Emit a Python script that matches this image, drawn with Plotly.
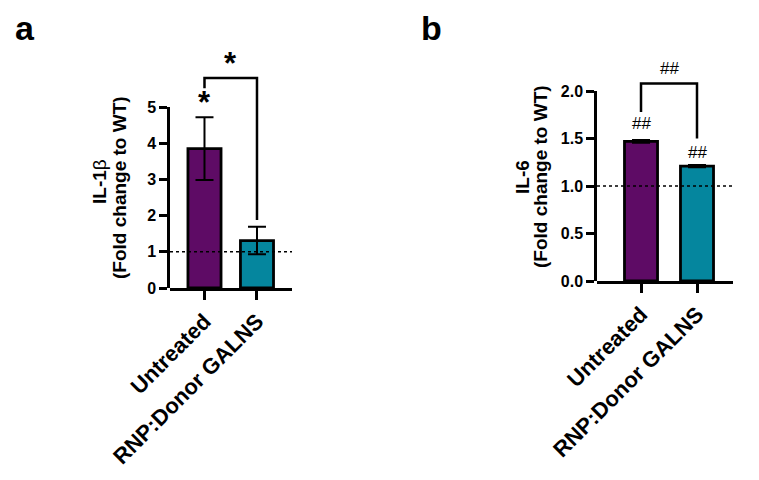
import plotly.graph_objects as go

# data
groups = ["Untreated", "RNP:Donor GALNS"]
il1b_mean = [3.85, 1.31]
il1b_err = [0.87, 0.38]
il6_mean = [1.47, 1.21]
il6_err = [0.015, 0.012]
bar_colors = ["#5E0B65", "#05869E"]

il1b_ticks = [0, 1, 2, 3, 4, 5]
il6_ticks = [0.0, 0.5, 1.0, 1.5, 2.0]

# significance brackets: left leg end, top, right leg end
il1b_bracket = [5.52, 5.8, 1.88]
il6_bracket = [1.78, 2.08, 1.50]
# significance labels: (x index, y, text)
il1b_sig = [(0.5, 6.2, "*"), (0, 5.12, "*")]
il6_sig = [(0.5, 2.24, "##"), (0, 1.66, "##"), (1, 1.355, "##")]

# the page body has an 8px margin, so the figure is drawn 8px in
OFF = 8
W, H = 759 - OFF, 480 - OFF
FONT = "Liberation Sans, Arial, sans-serif"


def fx(p):
    return (p - OFF) / W


def fy(p):
    return 1 - (p - OFF) / H


x_pos = list(range(len(groups)))

fig = go.Figure()


def panel(xa, ya_data, ya_tick, means, errs, bracket, sig, sig_size, sig_bold,
          xr, bar_w):
    xref = "x" if xa == 1 else "x%d" % xa
    yref = "y" if ya_data == 1 else "y%d" % ya_data
    fig.add_trace(go.Bar(
        x=x_pos, y=means, width=bar_w,
        marker=dict(color=bar_colors, line=dict(color="black", width=2.8)),
        error_y=dict(type="data", array=errs, color="black", thickness=2, width=9),
        xaxis=xref, yaxis=yref, showlegend=False))
    # dotted reference line at 1
    fig.add_trace(go.Scatter(
        x=[xr[0], xr[1]], y=[1, 1], mode="lines",
        line=dict(color="black", width=1.5, dash="dot"),
        xaxis=xref, yaxis=yref, showlegend=False))
    # bracket
    fig.add_trace(go.Scatter(
        x=[x_pos[0], x_pos[0], x_pos[1], x_pos[1]],
        y=[bracket[0], bracket[1], bracket[1], bracket[2]],
        mode="lines", line=dict(color="black", width=2.5),
        xaxis=xref, yaxis=yref, showlegend=False))
    # dummy trace on the tick axis so it is drawn
    fig.add_trace(go.Scatter(x=[], y=[], xaxis=xref,
                             yaxis="y%d" % ya_tick, showlegend=False))
    for sx, sy, st in sig:
        fig.add_annotation(x=sx, y=sy, xref=xref, yref=yref, text=st,
                           showarrow=False, xanchor="center", yanchor="middle",
                           font=dict(family=FONT, size=sig_size, color="black",
                                     weight="bold" if sig_bold else "normal"))


xr_a = [-0.657, 1.667]
xr_b = [-0.786, 1.643]

panel(1, 1, 3, il1b_mean, il1b_err, il1b_bracket, il1b_sig, 31, True, xr_a, 0.63)
panel(2, 2, 4, il6_mean, il6_err, il6_bracket, il6_sig, 17, False, xr_b, 0.59)

# axis geometry (pixels)
a_top, a_bot, b_top, b_bot, data_top = 107, 288, 91, 281, 20
a_max = il1b_ticks[-1] * (a_bot - data_top) / (a_bot - a_top)
b_max = il6_ticks[-1] * (b_bot - data_top) / (b_bot - b_top)

xax = dict(showline=True, linewidth=2.5, linecolor="black", ticks="outside",
           ticklen=9, tickwidth=2.5, tickcolor="black", showgrid=False,
           zeroline=False, tickangle=-45, tickvals=x_pos, ticktext=groups,
           automargin=False,
           tickfont=dict(family=FONT, size=22, color="black", weight="bold"))
ytick = dict(showline=True, linewidth=2.5, linecolor="black", ticks="outside",
             ticklen=8, tickwidth=2.5, tickcolor="black", showgrid=False,
             zeroline=False, automargin=False,
             tickfont=dict(family=FONT, size=16, color="black", weight="bold"))

fig.update_layout(
    width=W, height=H, margin=dict(l=0, r=0, t=0, b=0),
    paper_bgcolor="white", plot_bgcolor="rgba(0,0,0,0)",
    xaxis=dict(xax, domain=[fx(170), fx(292)], range=xr_a, anchor="y"),
    xaxis2=dict(xax, domain=[fx(597), fx(733)], range=xr_b, anchor="y2"),
    yaxis=dict(domain=[fy(a_bot), fy(data_top)], range=[0, a_max],
               visible=False, anchor="x", automargin=False),
    yaxis2=dict(domain=[fy(b_bot), fy(data_top)], range=[0, b_max],
                visible=False, anchor="x2", automargin=False),
    yaxis3=dict(ytick, domain=[fy(a_bot), fy(a_top)],
                range=[0, il1b_ticks[-1]], tickvals=il1b_ticks, anchor="x"),
    yaxis4=dict(ytick, domain=[fy(b_bot), fy(b_top)],
                range=[0, il6_ticks[-1]], tickvals=il6_ticks,
                tickformat=".1f", anchor="x2"),
)

# axis titles and panel letters
titles = [
    ("<b>IL-1</b>β", 99, 182),
    ("<b>(Fold change to WT)</b>", 119, 188),
    ("<b>IL-6</b>", 522, 177),
    ("<b>(Fold change to WT)</b>", 540, 177),
]
for txt, px, py in titles:
    fig.add_annotation(x=fx(px), y=fy(py), xref="paper", yref="paper",
                       text=txt, textangle=-90, showarrow=False,
                       xanchor="center", yanchor="middle",
                       font=dict(family=FONT, size=19, color="black"))

for txt, px, py in [("a", 14, 8), ("b", 420, 8)]:
    fig.add_annotation(x=fx(px), y=fy(py), xref="paper", yref="paper",
                       text="<b>%s</b>" % txt, showarrow=False,
                       xanchor="left", yanchor="top", borderpad=0,
                       font=dict(family=FONT, size=34, color="black"))

fig.write_html("out.html")
